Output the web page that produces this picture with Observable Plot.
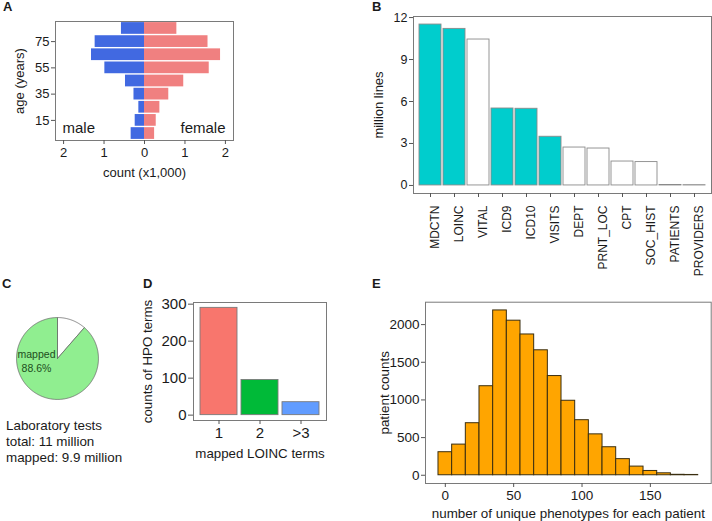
<!DOCTYPE html>
<html><head><meta charset="utf-8">
<script src="https://cdn.jsdelivr.net/npm/d3@7"></script>
<script src="https://cdn.jsdelivr.net/npm/@observablehq/plot@0.6"></script>
<style>
html,body{margin:0;padding:0;background:#fff;}
#fig{position:relative;width:712px;height:521px;overflow:hidden;font-family:"Liberation Sans",Arial,Helvetica,sans-serif;color:#1a1a1a;}
.panel{position:absolute;}
.letter{position:absolute;font-weight:bold;font-size:13px;line-height:13px;}
.note{position:absolute;font-size:13.4px;line-height:16px;white-space:pre;}
</style></head><body>
<div id="fig"></div>
<script>
// ---- data ----
// A: age pyramid (count x1,000), age bins of 10 years
const ageGroups = [0, 10, 20, 30, 40, 50, 60, 70, 80];
const maleCounts = [0.33, 0.23, 0.14, 0.26, 0.47, 0.98, 1.31, 1.22, 0.57];
const femaleCounts = [0.25, 0.29, 0.38, 0.60, 0.97, 1.60, 1.88, 1.57, 0.80];
// B: million lines per table
const tables = ["MDCTN","LOINC","VITAL","ICD9","ICD10","VISITS","DEPT","PRNT_LOC","CPT","SOC_HIST","PATIENTS","PROVIDERS"];
const millionLines = [11.5, 11.19, 10.43, 5.5, 5.48, 3.48, 2.71, 2.64, 1.71, 1.67, 0.03, 0.02];
const tableUsed = [true, true, false, true, true, true, false, false, false, false, false, false];
// C: laboratory tests
const labSlices = ["unmapped", "mapped"];
const labShares = [11.4, 88.6];
const labNote = ["Laboratory tests", "total: 11 million", "mapped: 9.9 million"];
// D: HPO terms by number of mapped LOINC terms
const loincCategories = ["1", "2", ">3"];
const hpoCounts = [290, 95, 35];
// E: histogram of unique phenotypes per patient (bin width 10)
const phenoBins = [0, 10, 20, 30, 40, 50, 60, 70, 80, 90, 100, 110, 120, 130, 140, 150, 160, 170, 180];
const patientCounts = [306, 407, 691, 1182, 2188, 2052, 1869, 1659, 1317, 989, 731, 543, 372, 214, 115, 57, 26, 6, 4];

// ---- styles ----
const font = '"Liberation Sans", Arial, Helvetica, sans-serif';
const tickStroke = "#555";
const textFill = "#1a1a1a";
const frameStroke = "#7a7a7a";
const fig = document.getElementById("fig");
function place(el, left, top) {
  const d = document.createElement("div");
  d.className = "panel"; d.style.left = left + "px"; d.style.top = top + "px";
  d.appendChild(el); fig.appendChild(d);
}
function letter(t, left, top) {
  const d = document.createElement("div");
  d.className = "letter"; d.textContent = t; d.style.left = left + "px"; d.style.top = top + "px";
  fig.appendChild(d);
}
const baseStyle = (fs) => ({fontFamily: font, fontSize: fs, color: textFill, background: "transparent", overflow: "visible"});
const yTitle = (t, off, fs) => Plot.text([t], {text: d => d, frameAnchor: "left", rotate: -90, textAnchor: "middle", lineAnchor: "middle", dx: off, fontSize: fs, fill: textFill});
const xTitle = (t, off, fs) => Plot.text([t], {text: d => d, frameAnchor: "bottom", textAnchor: "middle", lineAnchor: "middle", dy: off, fontSize: fs, fill: textFill});

// ---- A ----
const ageData = ageGroups.map((a, i) => ({low: a, male: maleCounts[i], female: femaleCounts[i]}));
place(Plot.plot({
  width: 250, height: 190, marginTop: 21, marginLeft: 55, marginRight: 17, marginBottom: 50,
  style: baseStyle("13px"),
  x: {domain: [-2.2, 2.2]},
  y: {domain: [-0.3, 90.3]},
  marks: [
    Plot.rect(ageData, {x1: d => -d.male, x2: 0, y1: "low", y2: d => d.low + 10, fill: "#4169E1", insetTop: 0.7, insetBottom: 0.7}),
    Plot.rect(ageData, {x1: 0, x2: "female", y1: "low", y2: d => d.low + 10, fill: "#F08080", insetTop: 0.7, insetBottom: 0.7}),
    Plot.frame({stroke: frameStroke}),
    Plot.axisX({ticks: [-2, -1, 0, 1, 2], tickFormat: d => String(Math.abs(d)), tickSize: 4, tickPadding: 3, label: null, stroke: tickStroke, fill: textFill, fontSize: 13}),
    Plot.axisY({ticks: [15, 35, 55, 75], tickFormat: d => String(d), tickSize: 4, tickPadding: 2, label: null, stroke: tickStroke, fill: textFill, fontSize: 13}),
    xTitle("count (x1,000)", 32, 13),
    yTitle("age (years)", -36, 13),
    Plot.text(["male"], {text: d => d, frameAnchor: "bottom-left", textAnchor: "start", lineAnchor: "middle", dx: 7, dy: -12, fontSize: 15, fill: textFill}),
    Plot.text(["female"], {text: d => d, frameAnchor: "bottom-right", textAnchor: "end", lineAnchor: "middle", dx: -8, dy: -12, fontSize: 15, fill: textFill})
  ]
}), 0, 0);
letter("A", 3, 0);

// ---- B ----
const tableData = tables.map((t, i) => ({name: t, value: millionLines[i], used: tableUsed[i]}));
place(Plot.plot({
  width: 372, height: 280, marginTop: 16, marginLeft: 73, marginRight: 1, marginBottom: 87,
  style: baseStyle("12px"),
  color: {type: "identity"},
  x: {type: "band", domain: tables, paddingInner: 0.1, paddingOuter: 0.15},
  y: {domain: [-0.575, 12.075]},
  marks: [
    Plot.barY(tableData, {x: "name", y: "value", fill: d => d.used ? "#00CDCD" : "#ffffff", stroke: "#8a8a8a", strokeWidth: 0.9}),
    Plot.frame({stroke: frameStroke}),
    Plot.axisX({tickSize: 4, tickPadding: 8, label: null, stroke: tickStroke, fill: "none"}),
    Plot.axisX({tickSize: 4, tickPadding: 8, tickRotate: -90, dx: 5, label: null, stroke: "none", fill: textFill, fontSize: 12}),
    Plot.axisY({ticks: [0, 3, 6, 9, 12], tickFormat: d => String(d), tickSize: 4, tickPadding: 2, label: null, stroke: tickStroke, fill: textFill, fontSize: 12.5}),
    yTitle("million lines", -35, 13)
  ]
}), 340, 0);
letter("B", 372, 0);

// ---- C ----
const arcs = d3.pie().sort(null)(labShares);
const slicePts = arcs.map((a, i) => {
  const pts = [{x: 0, y: 0}];
  const n = Math.max(2, Math.ceil((a.endAngle - a.startAngle) / (Math.PI / 180)));
  for (let k = 0; k <= n; k++) {
    const t = a.startAngle + (a.endAngle - a.startAngle) * k / n;
    pts.push({x: Math.sin(t), y: Math.cos(t)});
  }
  pts.push({x: 0, y: 0});
  return {slice: labSlices[i], pts};
});
const sliceFill = {unmapped: "#ffffff", mapped: "#90EE90"};
const mappedShare = labShares[labSlices.indexOf("mapped")];
place(Plot.plot({
  width: 86, height: 86, marginTop: 0, marginLeft: 0, marginRight: 0, marginBottom: 0,
  style: baseStyle("10.5px"),
  x: {domain: [-1.05, 1.05], axis: null},
  y: {domain: [-1.05, 1.05], axis: null},
  marks: [
    ...slicePts.map(s => Plot.line(s.pts, {x: "x", y: "y", fill: sliceFill[s.slice], stroke: "#6a6a6a", strokeWidth: 0.8})),
    Plot.text([`mapped\n${mappedShare}%`], {text: d => d, frameAnchor: "left", textAnchor: "middle", lineAnchor: "middle", dx: 22, dy: 2, fontSize: 10.5, lineHeight: 1.35, fill: "#1d4d1d"})
  ]
}), 14, 315);
letter("C", 2, 277);
const note = document.createElement("div");
note.className = "note"; note.textContent = labNote.join("\n");
note.style.left = "6px"; note.style.top = "418px";
fig.appendChild(note);

// ---- D ----
const dColors = ["#F8766D", "#00BA38", "#619CFF"];
const dData = loincCategories.map((c, i) => ({cat: c, n: hpoCounts[i], col: dColors[i]}));
place(Plot.plot({
  width: 190, height: 180, marginTop: 17, marginLeft: 53, marginRight: 4, marginBottom: 45,
  style: baseStyle("15px"),
  color: {type: "identity"},
  x: {type: "band", domain: loincCategories, paddingInner: 0.1, paddingOuter: 0.15},
  y: {domain: [-14.5, 304.5]},
  marks: [
    Plot.barY(dData, {x: "cat", y: "n", fill: "col", stroke: "#7a7a7a", strokeWidth: 0.9}),
    Plot.frame({stroke: frameStroke}),
    Plot.axisX({tickSize: 4, tickPadding: 3, label: null, stroke: tickStroke, fill: textFill, fontSize: 15}),
    Plot.axisY({ticks: [0, 100, 200, 300], tickFormat: d => String(d), tickSize: 5, tickPadding: 2, label: null, stroke: tickStroke, fill: textFill, fontSize: 15}),
    yTitle("counts of HPO terms", -46, 13.3),
    xTitle("mapped LOINC terms", 33, 13.3)
  ]
}), 140, 285);
letter("D", 143, 277);

// ---- E ----
const eData = phenoBins.map((b, i) => ({b, n: patientCounts[i]}));
place(Plot.plot({
  width: 372, height: 236, marginTop: 16.7, marginLeft: 85, marginRight: 1.3, marginBottom: 38,
  style: baseStyle("13.5px"),
  x: {domain: [-14.5, 194.5]},
  y: {domain: [-109.4, 2297.4]},
  marks: [
    Plot.rectY(eData, {x1: d => d.b - 5, x2: d => d.b + 5, y: "n", fill: "#FFA500", stroke: "#3a2e10", strokeWidth: 1}),
    Plot.frame({stroke: frameStroke}),
    Plot.axisX({ticks: [0, 50, 100, 150], tickFormat: d => String(d), tickSize: 4, tickPadding: 3, label: null, stroke: tickStroke, fill: textFill, fontSize: 13.5}),
    Plot.axisY({ticks: [0, 500, 1000, 1500, 2000], tickFormat: d => String(d), tickSize: 4, tickPadding: 2, label: null, stroke: tickStroke, fill: textFill, fontSize: 13.5}),
    yTitle("patient counts", -41, 13.4),
    xTitle("number of unique phenotypes for each patient", 30, 13.4)
  ]
}), 340, 285);
letter("E", 372, 277);
</script>
</body></html>
